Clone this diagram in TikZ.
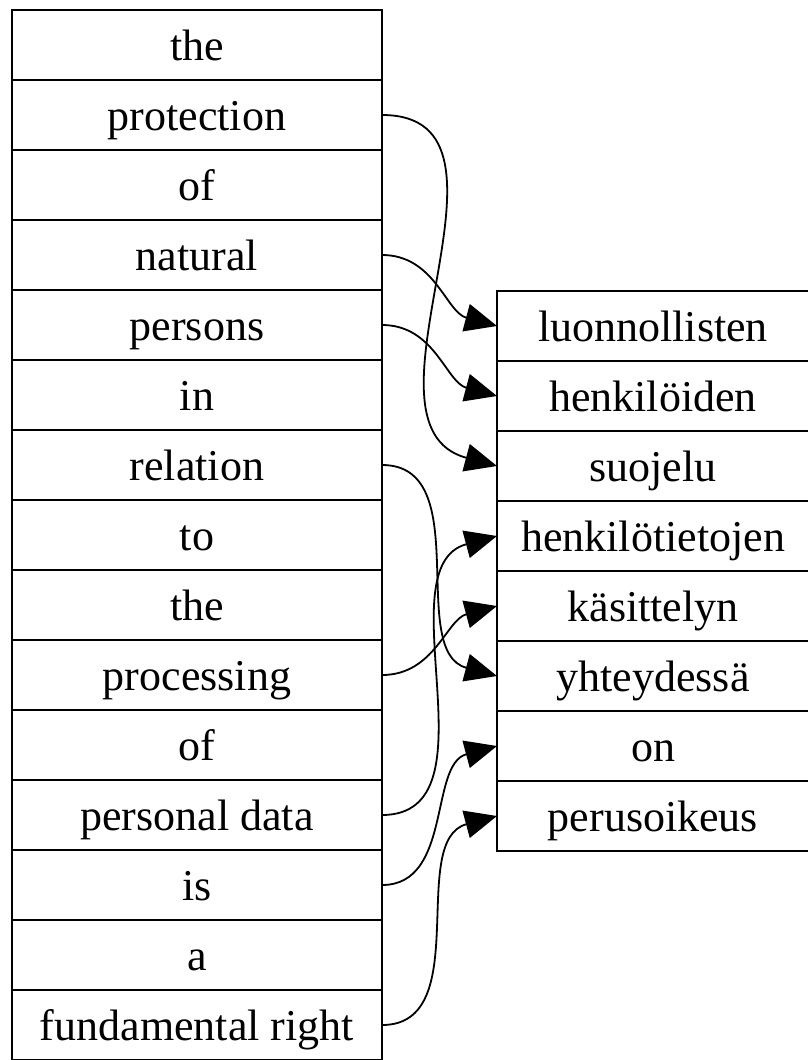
\documentclass[tikz,border=0pt]{standalone}
\usepackage{fontspec}
\setmainfont{Liberation Serif}
\usetikzlibrary{positioning}
\usetikzlibrary{arrows.meta}

\begin{document}
\begin{tikzpicture}
  \tikzstyle{en word}=[rectangle,draw,line width=1pt,outer sep=0pt,inner sep=0pt,minimum width=185pt,minimum height=35pt,text height=17pt,text depth=2pt,font=\fontsize{22}{26}\selectfont]
  \tikzstyle{fi word}=[en word,minimum width=156pt]
  \tikzset{
align edge/.style={line width=0.9pt,-{Triangle[length=16pt,width=14pt]}},
down edge/.style={align edge,out=0,in=165},
up edge/.style={align edge,out=0,in=195}
}
  \useasboundingbox (0,0) rectangle (404pt,-530pt);
  % english sentence
  \node[en word,anchor=north west](en-the) at (6pt,-5pt){the};
  \node[en word,below=0pt of en-the](en-protection){protection};
  \node[en word,below=0pt of en-protection](en-of){of};
  \node[en word,below=0pt of en-of](en-natural){natural};
  \node[en word,below=0pt of en-natural](en-persons){persons};
  \node[en word,below=0pt of en-persons](en-in){in};
  \node[en word,below=0pt of en-in](en-relation){relation};
  \node[en word,below=0pt of en-relation](en-to){to};
  \node[en word,below=0pt of en-to](en-the2){the};
  \node[en word,below=0pt of en-the2](en-processing){processing};
  \node[en word,below=0pt of en-processing](en-of2){of};
  \node[en word,below=0pt of en-of2](en-personaldata){personal data};
  \node[en word,below=0pt of en-personaldata](en-is){is};
  \node[en word,below=0pt of en-is](en-a){a};
  \node[en word,below=0pt of en-a](en-fundright){fundamental right};
  % finnish sentence
  \node[fi word,anchor=north west](fi-luonnollisten) at (248.5pt,-145.5pt){luonnollisten};
  \node[fi word,below=0pt of fi-luonnollisten](fi-henkiloiden){henkilöiden};
  \node[fi word,below=0pt of fi-henkiloiden](fi-suojelu){suojelu};
  \node[fi word,below=0pt of fi-suojelu](fi-henkilotietojen){henkilötietojen};
  \node[fi word,below=0pt of fi-henkilotietojen](fi-kasittelyn){käsittelyn};
  \node[fi word,below=0pt of fi-kasittelyn](fi-yhteydessa){yhteydessä};
  \node[fi word,below=0pt of fi-yhteydessa](fi-on){on};
  \node[fi word,below=0pt of fi-on](fi-perusoikeus){perusoikeus};
  % alignment
  \draw[down edge,looseness=1.1] (en-protection.east) to (fi-suojelu.west);
  \draw[down edge] (en-natural.east) to (fi-luonnollisten.west);
  \draw[down edge] (en-persons.east) to (fi-henkiloiden.west);
  \draw[down edge] (en-relation.east) to (fi-yhteydessa.west);
  \draw[up edge] (en-processing.east) to (fi-kasittelyn.west);
  \draw[up edge] (en-personaldata.east) to (fi-henkilotietojen.west);
  \draw[up edge] (en-is.east) to (fi-on.west);
  \draw[up edge] (en-fundright.east) to (fi-perusoikeus.west);
\end{tikzpicture}
\end{document}
